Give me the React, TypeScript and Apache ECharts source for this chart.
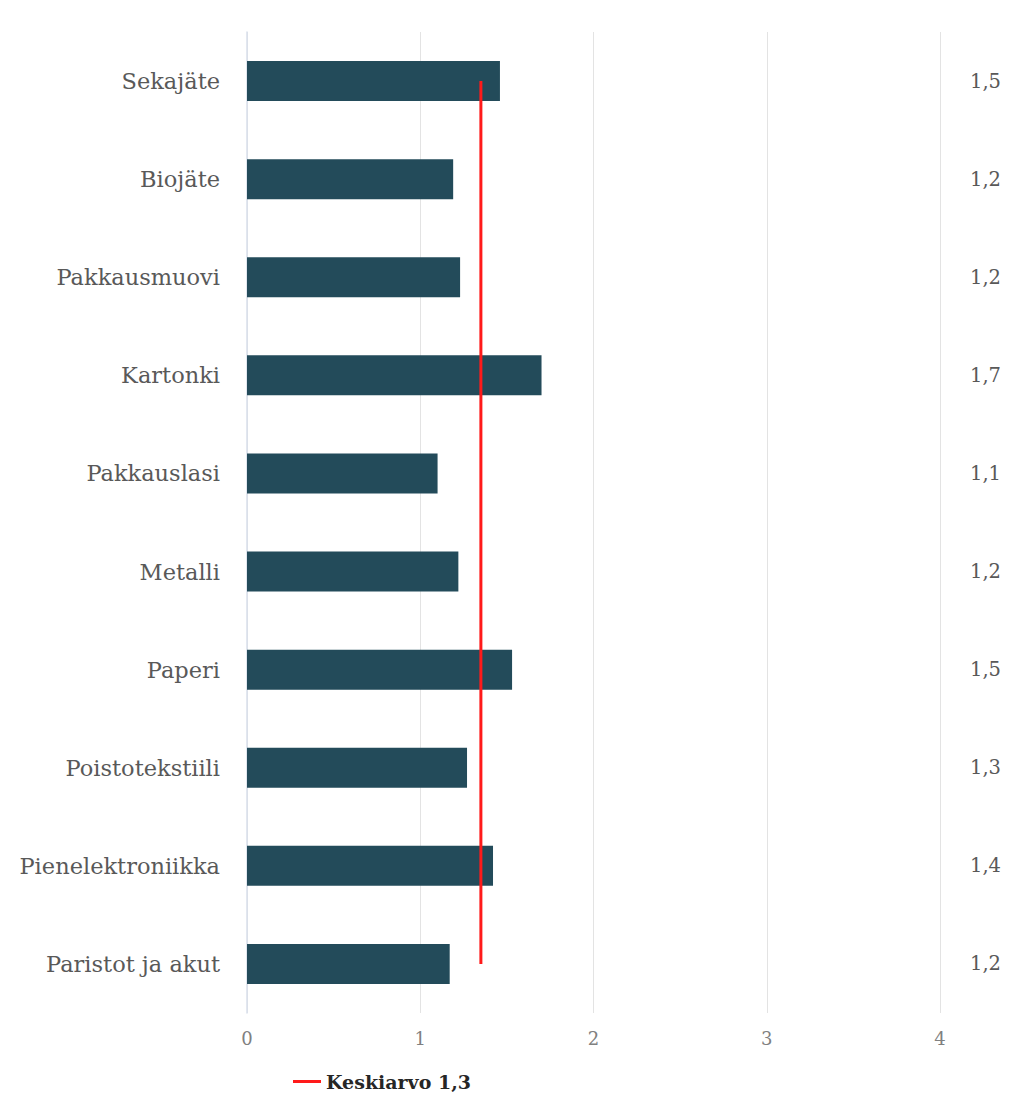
import React, { useEffect, useRef } from "react";
import * as echarts from "echarts";

const categories = [
  "Sekajäte",
  "Biojäte",
  "Pakkausmuovi",
  "Kartonki",
  "Pakkauslasi",
  "Metalli",
  "Paperi",
  "Poistotekstiili",
  "Pienelektroniikka",
  "Paristot ja akut",
];
const values = [1.46, 1.19, 1.23, 1.7, 1.1, 1.22, 1.53, 1.27, 1.42, 1.17];
const averageValue = 1.35;
const averageLabel = "Keskiarvo 1,3";
const xTicks = [0, 1, 2, 3, 4];

const fmt = (v: number) => v.toFixed(1).replace(".", ",");

export default function App() {
  const ref = useRef<HTMLDivElement>(null);
  useEffect(() => {
    document.body.style.margin = "0";
    const chart = echarts.init(ref.current!, undefined, { renderer: "svg" });
    const font = "DejaVu Serif";
    chart.setOption({
      animation: false,
      backgroundColor: "#ffffff",
      textStyle: { fontFamily: font },
      grid: { left: 247, right: 71, top: 32, bottom: 82, containLabel: false },
      legend: {
        top: 1072,
        left: 293,
        padding: 0,
        itemWidth: 28,
        itemHeight: 3,
        itemGap: 10,
        data: [{ name: averageLabel, icon: "rect" }],
        textStyle: { fontFamily: font, fontSize: 19, fontWeight: "bold", color: "#262626" },
      },
      xAxis: {
        type: "value",
        min: xTicks[0],
        max: xTicks[xTicks.length - 1],
        interval: 1,
        axisLine: { show: false },
        axisTick: { show: false },
        axisLabel: { color: "#808080", fontSize: 18, margin: 16, fontFamily: font },
        splitLine: { show: true, lineStyle: { color: "#e3e3e3", width: 1 } },
      },
      yAxis: [
        {
          type: "category",
          data: categories,
          inverse: true,
          axisLine: { show: true, lineStyle: { color: "#d8dfeb", width: 1.5 } },
          axisTick: { show: false },
          axisLabel: { color: "#595959", fontSize: 22.5, margin: 27, fontFamily: font },
        },
        {
          type: "category",
          data: values.map(fmt),
          inverse: true,
          position: "right",
          axisLine: { show: false },
          axisTick: { show: false },
          axisLabel: { color: "#595959", fontSize: 19.5, margin: 30, fontFamily: font },
        },
      ],
      series: [
        {
          type: "bar",
          data: values,
          barWidth: 40,
          itemStyle: { color: "#234b5a" },
          yAxisIndex: 0,
        },
        {
          name: averageLabel,
          type: "line",
          data: categories.map(() => averageValue),
          yAxisIndex: 0,
          symbol: "none",
          lineStyle: { color: "#ff1a1a", width: 3 },
          itemStyle: { color: "#ff1a1a" },
        },
      ],
    });
    return () => chart.dispose();
  }, []);
  return <div ref={ref} style={{ width: 1011, height: 1095 }} />;
}
